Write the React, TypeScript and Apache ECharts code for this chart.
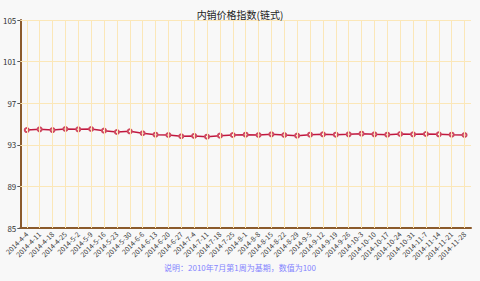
import React, { useEffect, useRef } from "react";
import * as echarts from "echarts";

const categories = [
  "2014-4-4", "2014-4-11", "2014-4-18", "2014-4-25", "2014-5-2", "2014-5-9", "2014-5-16",
  "2014-5-23", "2014-5-30", "2014-6-6", "2014-6-13", "2014-6-20", "2014-6-27", "2014-7-4",
  "2014-7-11", "2014-7-18", "2014-7-25", "2014-8-1", "2014-8-8", "2014-8-15", "2014-8-22",
  "2014-8-29", "2014-9-5", "2014-9-12", "2014-9-19", "2014-9-26", "2014-10-3", "2014-10-10",
  "2014-10-17", "2014-10-24", "2014-10-31", "2014-11-7", "2014-11-14", "2014-11-21", "2014-11-28",
];

const values = [
  94.42, 94.49, 94.42, 94.52, 94.49, 94.52, 94.36, 94.23, 94.3, 94.11, 93.97, 93.94,
  93.82, 93.85, 93.78, 93.88, 93.94, 93.97, 93.94, 94.01, 93.94, 93.88, 93.97, 94.01,
  93.97, 94.01, 94.07, 94.01, 93.97, 94.04, 94.01, 94.04, 94.01, 93.97, 93.94,
];

const yTicks = [85, 89, 93, 97, 101, 105];

const titleText = "内销价格指数(链式)";
const noteText = "说明：2010年7月第1周为基期，数值为100";

export default function App() {
  const ref = useRef<HTMLDivElement>(null);
  useEffect(() => {
    document.body.style.margin = "0";
    const chart = echarts.init(ref.current!, null, { renderer: "svg" });
    const font = "'Noto Sans CJK SC', 'DejaVu Sans', sans-serif";
    const gridColor = "#fbe7b8";
    const axisColor = "#8b5a2b";
    chart.setOption({
      animation: false,
      backgroundColor: "#f8f8f8",
      textStyle: { fontFamily: font },
      title: {
        text: titleText,
        left: "center",
        top: 4,
        textStyle: { fontSize: 10, fontWeight: "normal", color: "#222", fontFamily: font },
      },
      grid: { left: 19, right: 9, top: 20, bottom: 53 },
      xAxis: {
        type: "category",
        data: categories,
        boundaryGap: true,
        axisLine: { lineStyle: { color: axisColor, width: 2 } },
        axisTick: { alignWithLabel: true, length: 3, lineStyle: { color: "#555" } },
        axisLabel: { rotate: 45, fontSize: 7, color: "#333", margin: 5, interval: 0, fontFamily: font },
        splitLine: { show: false },
      },
      yAxis: {
        type: "value",
        min: 85,
        max: 105,
        axisLine: { show: true, lineStyle: { color: axisColor, width: 2 } },
        axisTick: { show: true, length: 3, customValues: yTicks, lineStyle: { color: "#555" } },
        axisLabel: { fontSize: 8, color: "#333", margin: 4, customValues: yTicks, fontFamily: font },
        splitLine: { show: false },
      },
      graphic: [
        {
          type: "text",
          left: "center",
          top: 263,
          style: { text: noteText, fill: "#8484ff", fontSize: 8, fontFamily: font },
        },
      ],
      series: [
        {
          type: "line",
          data: [],
          z: 1,
          silent: true,
          markLine: {
            silent: true,
            symbol: "none",
            label: { show: false },
            lineStyle: { color: gridColor, width: 1, type: "solid" },
            data: [
              ...categories.map((c) => ({ xAxis: c })),
              ...yTicks.slice(1).map((v) => ({ yAxis: v })),
            ],
          },
        },
        {
          type: "line",
          data: values,
          z: 3,
          symbol: "emptyCircle",
          symbolSize: 4,
          lineStyle: { color: "#c0173f", width: 1.5 },
          itemStyle: { color: "#d04a60", borderWidth: 1 },
        },
      ],
    });
    return () => chart.dispose();
  }, []);
  return <div ref={ref} style={{ width: 480, height: 281 }} />;
}
